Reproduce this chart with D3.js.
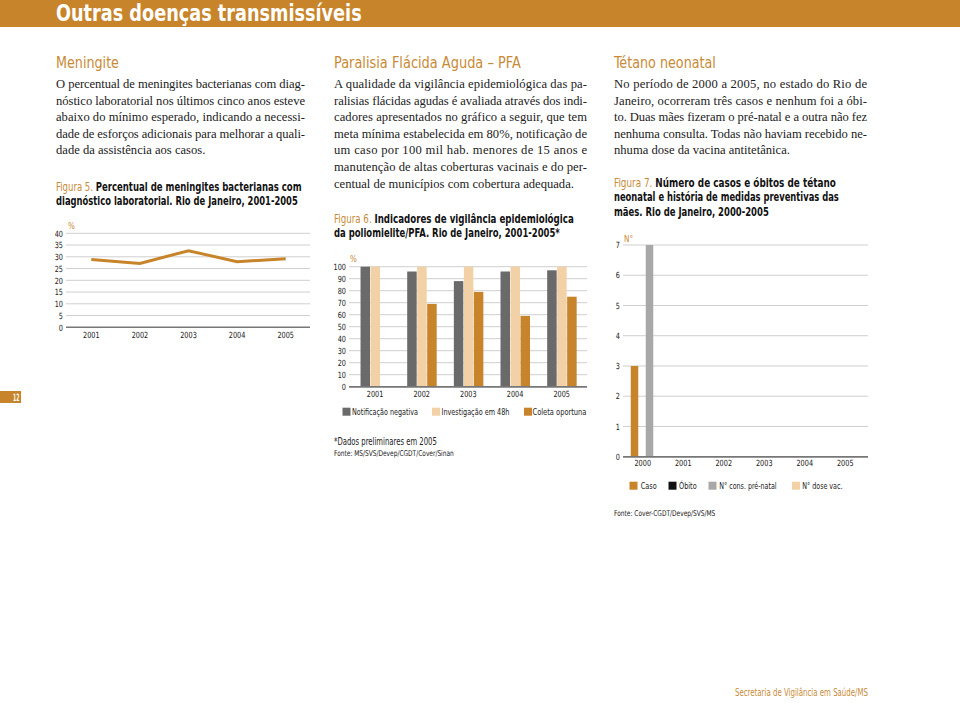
<!DOCTYPE html>
<html><head><meta charset="utf-8">
<script src="https://cdn.jsdelivr.net/npm/d3@7"></script>
<style>html,body{margin:0;padding:0;background:#fff;}svg{display:block;}</style>
</head><body>
<script>
// ---------- DATA ----------
const meningYears = ["2001","2002","2003","2004","2005"];
const meningValues = [28.9, 27.2, 32.6, 27.9, 29.2];
const meningTicks = [0,5,10,15,20,25,30,35,40];

const pfaYears = ["2001","2002","2003","2004","2005"];
const pfaSeries = ["Notificação negativa","Investigação em 48h","Coleta oportuna"];
const pfaNotificacao = [100, 96, 88, 96, 97];
const pfaInvestigacao = [100, 100, 100, 100, 100];
const pfaColeta = [0, 69, 79, 59, 75];
const pfaTicks = [0,10,20,30,40,50,60,70,80,90,100];

const tetYears = ["2000","2001","2002","2003","2004","2005"];
const tetSeries = ["Caso","Óbito","N° cons. pré-natal","N° dose vac."];
const tetCaso = [3,0,0,0,0,0];
const tetObito = [0,0,0,0,0,0];
const tetConsultas = [7,0,0,0,0,0];
const tetDoses = [0,0,0,0,0,0];
const tetTicks = [0,1,2,3,4,5,6,7];

// ---------- STYLE ----------
const ORANGE = "#c8842a", HEAD = "#c98a36", DARK = "#6a6a6a", PEACH = "#f2d1a6", GRAY = "#a8a8a8", BLACK = "#111";
const COND = "'Liberation Sans Narrow','DejaVu Sans Condensed','Roboto Condensed',sans-serif";
const SERIF = "'Liberation Serif','DejaVu Serif',serif";

const svg = d3.select("body").append("svg").attr("width",960).attr("height",703);

// squeeze a text horizontally to a target width (about its x anchor)
function fit(sel, target){
  const w = sel.node().getComputedTextLength();
  const x = +sel.attr("x") || 0;
  const k = target / w;
  sel.attr("transform", `translate(${x},0) scale(${k},1) translate(${-x},0)`);
  return sel;
}

// header band
svg.append("rect").attr("x",0).attr("y",0).attr("width",960).attr("height",27).attr("fill",ORANGE);
fit(svg.append("text").attr("x",56).attr("y",21).attr("fill","#fff").attr("font-family",COND)
  .attr("font-weight","bold").attr("font-size",23).text("Outras doenças transmissíveis"), 306);

// page number
svg.append("rect").attr("x",0).attr("y",391).attr("width",21).attr("height",12).attr("fill",ORANGE);
fit(svg.append("text").attr("x",13).attr("y",401).attr("fill","#fff")
  .attr("font-family",COND).attr("font-weight","bold").attr("font-size",10).text("12"), 6.5);

// footer
fit(svg.append("text").attr("x",735).attr("y",696.5).attr("fill",HEAD).attr("font-family",COND)
  .attr("font-size",10.5).text("Secretaria de Vigilância em Saúde/MS"), 133);

// ---------- TEXT BLOCKS ----------
function heading(x, y, t, w){
  fit(svg.append("text").attr("x",x).attr("y",y).attr("fill",HEAD).attr("font-family",COND)
    .attr("font-size",15).text(t), w);
}
function para(x, y0, width, lines){
  lines.forEach((l,i)=>{
    const t = svg.append("text").attr("x",x).attr("y",y0+i*16.6).attr("fill","#222")
      .attr("font-family",SERIF).attr("font-size",12.6).text(l);
    if(i < lines.length-1) t.attr("textLength",width).attr("lengthAdjust","spacing");
  });
}
function caption(x, y0, lines, widths){
  lines.forEach((l,i)=>{
    const t = svg.append("text").attr("x",x).attr("y",y0+i*14.3).attr("font-family",COND)
      .attr("font-size",11.5).attr("font-weight","bold").attr("fill",BLACK);
    if(i===0){
      t.append("tspan").attr("fill",HEAD).attr("font-weight","normal").text(l[0]);
      t.append("tspan").text(l[1]);
    } else t.text(l);
    fit(t, widths[i]);
  });
}

heading(56, 68, "Meningite", 63);
para(56, 88, 249, [
  "O percentual de meningites bacterianas com diag-",
  "nóstico laboratorial nos últimos cinco anos esteve",
  "abaixo do mínimo esperado, indicando a necessi-",
  "dade de esforços adicionais para melhorar a quali-",
  "dade da assistência aos casos."]);
caption(56, 191, [["Figura 5. ","Percentual de meningites bacterianas com"],
  "diagnóstico laboratorial. Rio de Janeiro, 2001-2005"], [246, 242]);

heading(334, 68, "Paralisia Flácida Aguda – PFA", 187);
para(334, 88, 253, [
  "A qualidade da vigilância epidemiológica das pa-",
  "ralisias flácidas agudas é avaliada através dos indi-",
  "cadores apresentados no gráfico a seguir, que tem",
  "meta mínima estabelecida em 80%, notificação de",
  "um caso por 100 mil hab. menores de 15 anos e",
  "manutenção de altas coberturas vacinais e do per-",
  "centual de municípios com cobertura adequada."]);
caption(334, 223, [["Figura 6. ","Indicadores de vigilância epidemiológica"],
  "da poliomielite/PFA. Rio de Janeiro, 2001-2005*"], [240, 226]);

heading(614, 68, "Tétano neonatal", 102);
para(614, 88, 253, [
  "No período de 2000 a 2005, no estado do Rio de",
  "Janeiro, ocorreram três casos e nenhum foi a óbi-",
  "to. Duas mães fizeram o pré-natal e a outra não fez",
  "nenhuma consulta. Todas não haviam recebido ne-",
  "nhuma dose da vacina antitetânica."]);
caption(614, 187, [["Figura 7. ","Número de casos e óbitos de tétano"],
  "neonatal e história de medidas preventivas das",
  "mães. Rio de Janeiro, 2000-2005"], [222, 225, 155]);

// ---------- helpers ----------
function styleTicks(a){
  a.select(".domain").remove();
  a.selectAll("text").attr("font-family",COND).attr("font-size",8.5).attr("fill","#222")
    .attr("transform","scale(0.85,1)");
}
function yAxisGrid(g, y, ticks, x0, x1){
  ticks.forEach(v=>{
    g.append("line").attr("x1",x0).attr("x2",x1).attr("y1",y(v)).attr("y2",y(v))
      .attr("stroke", v===0 ? "#777" : "#cfcfcf").attr("stroke-width", v===0 ? 1.4 : 1);
  });
  const ax = d3.axisLeft(y).tickValues(ticks).tickFormat(d3.format("d")).tickSize(0).tickPadding(0);
  styleTicks(g.append("g").attr("transform",`translate(${x0-3},0)`).call(ax));
}
function xAxis(g, x, yPos){
  const ax = d3.axisBottom(x).tickSize(0).tickPadding(0);
  styleTicks(g.append("g").attr("transform",`translate(0,${yPos})`).call(ax));
}
function unitLabel(g, x, y, t){
  g.append("text").attr("x",x).attr("y",y).attr("fill",HEAD).attr("font-family",COND)
    .attr("font-size",8).text(t);
}
function legend(g, items, y){
  items.forEach(it=>{
    g.append("rect").attr("x",it.x).attr("y",y-4).attr("width",8).attr("height",8).attr("fill",it.c);
    fit(g.append("text").attr("x",it.tx).attr("y",y+3.2).attr("font-family",COND)
      .attr("font-size",9).attr("fill","#222").text(it.t), it.w);
  });
}

// ---------- CHART 1: Meningite line ----------
{
  const g = svg.append("g");
  const y = d3.scaleLinear().domain([0,40]).range([327.3,233.3]);
  const x = d3.scaleBand().domain(meningYears).range([67,310]);
  yAxisGrid(g, y, meningTicks, 66, 310);
  xAxis(g, x, 332);
  unitLabel(g, 68, 229, "%");
  const line = d3.line().x((d,i)=>x(meningYears[i])+x.bandwidth()/2).y(d=>y(d));
  g.append("path").datum(meningValues).attr("d",line).attr("fill","none")
    .attr("stroke",ORANGE).attr("stroke-width",3).attr("stroke-linejoin","miter");
}

// ---------- CHART 2: PFA bars ----------
{
  const g = svg.append("g");
  const y = d3.scaleLinear().domain([0,100]).range([386.7,266.7]);
  const x = d3.scaleBand().domain(pfaYears).range([351.7,585]);
  const xi = d3.scaleBand().domain(pfaSeries).range([0,30]);
  yAxisGrid(g, y, pfaTicks, 349, 587);
  unitLabel(g, 350, 262, "%");
  const vals = [pfaNotificacao, pfaInvestigacao, pfaColeta];
  const cols = [DARK, PEACH, ORANGE];
  pfaSeries.forEach((s,si)=>{
    g.selectAll(null).data(vals[si]).enter().append("rect")
      .attr("x",(d,i)=>x(pfaYears[i])+x.bandwidth()/2-14.5+xi(s))
      .attr("width",xi.bandwidth()-0.5)
      .attr("y",d=>y(d)).attr("height",d=>y(0)-y(d)).attr("fill",cols[si]);
  });
  g.append("line").attr("x1",349).attr("x2",587).attr("y1",y(0)).attr("y2",y(0)).attr("stroke","#777").attr("stroke-width",1.4);
  xAxis(g, x, 391);
  legend(g, [{x:342.5,tx:352,w:66,c:DARK,t:pfaSeries[0]},
             {x:432,tx:441.5,w:68,c:PEACH,t:pfaSeries[1]},
             {x:524,tx:532.5,w:54,c:ORANGE,t:pfaSeries[2]}], 411.7);
  fit(g.append("text").attr("x",334).attr("y",445).attr("font-family",COND).attr("font-size",10)
    .attr("fill","#222").text("*Dados preliminares em 2005"), 103);
  fit(g.append("text").attr("x",334).attr("y",456).attr("font-family",COND).attr("font-size",8)
    .attr("fill","#222").text("Fonte: MS/SVS/Devep/CGDT/Cover/Sinan"), 120);
}

// ---------- CHART 3: Tétano bars ----------
{
  const g = svg.append("g");
  const y = d3.scaleLinear().domain([0,7]).range([456.7,245]);
  const x = d3.scaleBand().domain(tetYears).range([622.5,865.5]);
  const xi = d3.scaleBand().domain(tetSeries).range([0,30]);
  yAxisGrid(g, y, tetTicks, 623, 868);
  unitLabel(g, 624, 242, "N°");
  const vals = [tetCaso, tetObito, tetConsultas, tetDoses];
  const cols = [ORANGE, BLACK, GRAY, PEACH];
  tetSeries.forEach((s,si)=>{
    g.selectAll(null).data(vals[si]).enter().append("rect")
      .attr("x",(d,i)=>x(tetYears[i])+x.bandwidth()/2-12+xi(s))
      .attr("width",xi.bandwidth())
      .attr("y",d=>y(d)).attr("height",d=>y(0)-y(d)).attr("fill",cols[si]);
  });
  g.append("line").attr("x1",623).attr("x2",868).attr("y1",y(0)).attr("y2",y(0)).attr("stroke","#777").attr("stroke-width",1.4);
  xAxis(g, x, 460);
  legend(g, [{x:629.5,tx:640.7,w:16,c:ORANGE,t:tetSeries[0]},
             {x:668.5,tx:679,w:17.7,c:BLACK,t:tetSeries[1]},
             {x:708.5,tx:719.3,w:57.3,c:GRAY,t:tetSeries[2]},
             {x:792,tx:802.3,w:40.3,c:PEACH,t:tetSeries[3]}], 485.7);
  fit(g.append("text").attr("x",614).attr("y",516).attr("font-family",COND).attr("font-size",8)
    .attr("fill","#222").text("Fonte: Cover-CGDT/Devep/SVS/MS"), 101.7);
}
</script>
</body></html>
